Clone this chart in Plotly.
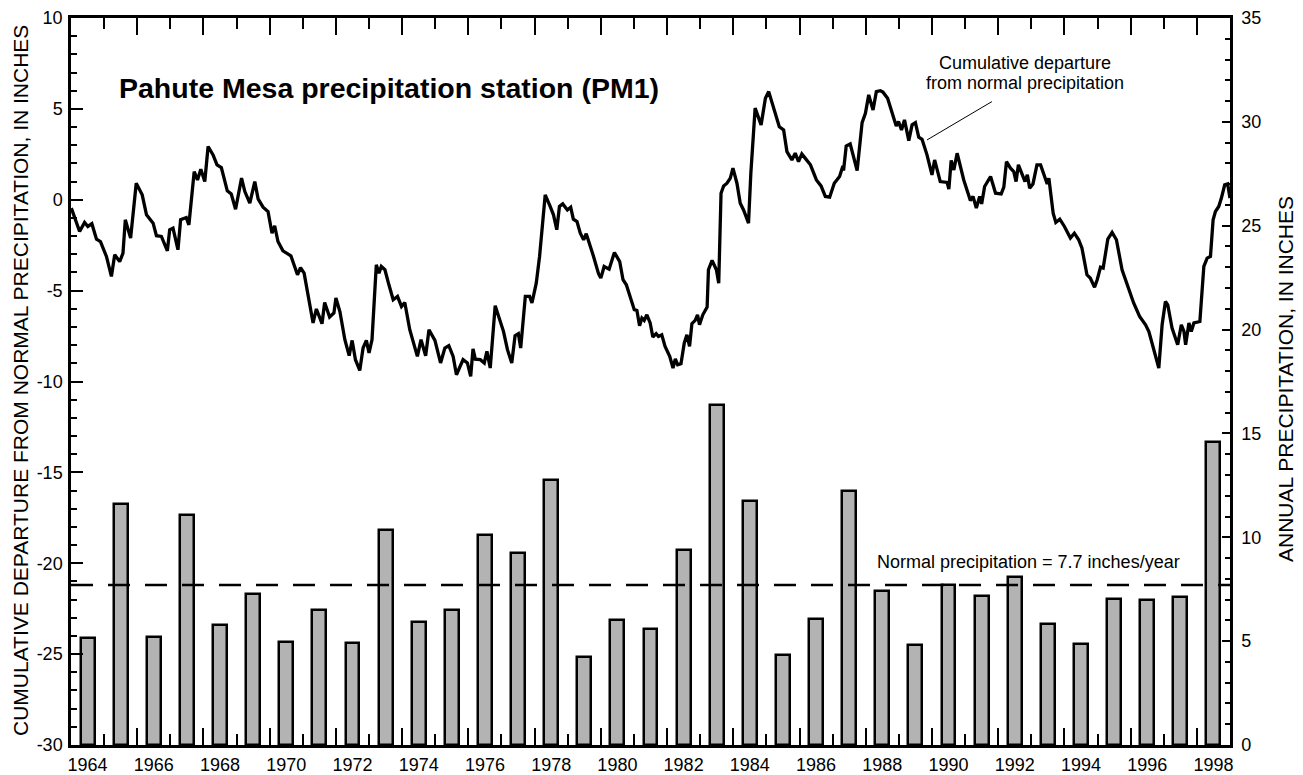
import plotly.graph_objects as go

# ---------------- data ----------------
years = list(range(1964, 1999))
annual_precip = [5.16, 11.58, 5.21, 11.06, 5.77, 7.26, 4.95, 6.49, 4.90, 10.34,
                 5.91, 6.49, 10.10, 9.23, 12.78, 4.23, 6.01, 5.58, 9.38, 16.39,
                 11.74, 4.32, 6.06, 12.22, 7.42, 4.81, 7.70, 7.17, 8.11, 5.82,
                 4.85, 7.04, 6.99, 7.12, 14.58]
normal_precip = 7.7

cum_time = [1964.01, 1964.16, 1964.26, 1964.41, 1964.51, 1964.63, 1964.77, 1964.89,
            1965.07, 1965.22, 1965.32, 1965.47, 1965.57, 1965.64, 1965.80, 1965.97,
            1966.15, 1966.28, 1966.48, 1966.58, 1966.73, 1966.91, 1966.98, 1967.08,
            1967.23, 1967.31, 1967.48, 1967.56, 1967.72, 1967.82, 1967.92, 1968.04,
            1968.14, 1968.29, 1968.41, 1968.54, 1968.72, 1968.84, 1968.97, 1969.15,
            1969.25, 1969.40, 1969.55, 1969.65, 1969.80, 1969.95, 1970.07, 1970.15,
            1970.25, 1970.40, 1970.64, 1970.84, 1970.93, 1971.04, 1971.31, 1971.41,
            1971.58, 1971.66, 1971.81, 1971.94, 1972.00, 1972.12, 1972.27, 1972.40,
            1972.49, 1972.59, 1972.72, 1972.82, 1972.92, 1973.00, 1973.09, 1973.22,
            1973.30, 1973.37, 1973.48, 1973.60, 1973.73, 1973.86, 1973.98, 1974.08,
            1974.23, 1974.46, 1974.57, 1974.71, 1974.81, 1974.99, 1975.16, 1975.29,
            1975.41, 1975.54, 1975.64, 1975.84, 1975.97, 1976.07, 1976.14, 1976.21,
            1976.36, 1976.48, 1976.56, 1976.66, 1976.81, 1977.06, 1977.18, 1977.31,
            1977.41, 1977.51, 1977.58, 1977.72, 1977.85, 1977.92, 1978.05, 1978.15,
            1978.32, 1978.47, 1978.57, 1978.67, 1978.75, 1978.85, 1978.99, 1979.09,
            1979.17, 1979.28, 1979.38, 1979.48, 1979.56, 1979.78, 1979.93, 1980.00,
            1980.10, 1980.25, 1980.41, 1980.57, 1980.67, 1980.77, 1980.89, 1981.01,
            1981.09, 1981.17, 1981.24, 1981.31, 1981.39, 1981.49, 1981.57, 1981.67,
            1981.74, 1981.84, 1981.94, 1982.08, 1982.18, 1982.25, 1982.32, 1982.42,
            1982.52, 1982.60, 1982.68, 1982.75, 1982.85, 1982.92, 1982.98, 1983.08,
            1983.21, 1983.25, 1983.36, 1983.49, 1983.56, 1983.63, 1983.71, 1983.81,
            1983.91, 1983.99, 1984.11, 1984.21, 1984.31, 1984.46, 1984.53, 1984.66,
            1984.84, 1984.97, 1985.07, 1985.22, 1985.39, 1985.52, 1985.62, 1985.77,
            1985.87, 1985.97, 1986.07, 1986.17, 1986.33, 1986.51, 1986.65, 1986.78,
            1986.91, 1987.05, 1987.21, 1987.31, 1987.33, 1987.41, 1987.53, 1987.74,
            1987.89, 1987.99, 1988.09, 1988.22, 1988.32, 1988.44, 1988.52, 1988.66,
            1988.79, 1988.92, 1988.99, 1989.08, 1989.17, 1989.30, 1989.40, 1989.50,
            1989.60, 1989.70, 1989.85, 1990.00, 1990.08, 1990.25, 1990.46, 1990.51,
            1990.58, 1990.66, 1990.76, 1990.96, 1991.16, 1991.24, 1991.34, 1991.44,
            1991.50, 1991.59, 1991.77, 1991.92, 1992.09, 1992.17, 1992.25, 1992.37,
            1992.47, 1992.54, 1992.61, 1992.73, 1992.81, 1992.88, 1992.95, 1993.05,
            1993.17, 1993.28, 1993.40, 1993.48, 1993.53, 1993.66, 1993.74, 1993.86,
            1994.00, 1994.18, 1994.30, 1994.43, 1994.53, 1994.68, 1994.78, 1994.91,
            1994.99, 1995.09, 1995.17, 1995.31, 1995.44, 1995.57, 1995.74, 1995.89,
            1996.09, 1996.27, 1996.45, 1996.55, 1996.70, 1996.85, 1996.95, 1997.05,
            1997.12, 1997.25, 1997.42, 1997.53, 1997.61, 1997.66, 1997.76, 1997.83,
            1997.91, 1998.09, 1998.21, 1998.31, 1998.41, 1998.49, 1998.56, 1998.66,
            1998.74, 1998.84, 1998.93, 1999.00]
cum_departure = [-0.46, -1.29, -1.75, -1.25, -1.47, -1.32, -2.17, -2.30,
                 -3.12, -4.22, -3.03, -3.40, -2.94, -1.10, -2.11, 0.91,
                 0.27, -0.83, -1.29, -1.98, -2.02, -2.81, -1.65, -1.56,
                 -2.75, -1.10, -0.98, -1.38, 1.55, 1.09, 1.68, 1.00,
                 2.93, 2.47, 1.92, 1.77, 0.49, 0.32, -0.52, 1.19,
                 0.45, -0.19, 1.00, 0.05, -0.41, -0.65, -1.84, -1.43,
                 -2.30, -2.81, -3.08, -4.13, -3.73, -4.04, -6.78, -6.01,
                 -6.82, -5.65, -6.45, -6.23, -5.41, -6.15, -7.70, -8.58,
                 -7.74, -8.80, -9.39, -8.16, -7.74, -8.43, -7.70, -3.58,
                 -4.04, -3.67, -3.85, -4.68, -5.50, -5.32, -5.87, -5.65,
                 -7.15, -8.62, -7.70, -8.58, -7.15, -7.74, -8.98, -8.16,
                 -8.03, -8.62, -9.63, -8.80, -8.98, -9.72, -8.20, -8.77,
                 -8.80, -8.98, -8.34, -9.26, -5.83, -7.24, -8.25, -8.98,
                 -7.48, -7.37, -8.16, -5.32, -5.32, -5.68, -4.59, -3.12,
                 0.27, -0.37, -0.83, -1.65, -0.37, -0.23, -0.56, -0.41,
                 -1.07, -1.20, -1.84, -2.20, -1.87, -3.12, -4.07, -4.31,
                 -3.67, -3.82, -2.90, -3.40, -4.40, -4.68, -5.32, -6.05,
                 -6.09, -6.93, -6.51, -6.64, -6.33, -6.78, -7.55, -7.37,
                 -7.52, -7.43, -8.07, -8.62, -9.26, -8.76, -9.08, -9.02,
                 -7.88, -7.43, -8.07, -6.82, -6.64, -6.33, -6.88, -6.33,
                 -5.90, -3.85, -3.34, -3.85, -4.59, 0.36, 0.76, 0.91,
                 1.19, 1.74, 0.91, -0.19, -0.56, -1.29, 1.46, 5.04,
                 4.12, 5.59, 5.95, 5.04, 4.02, 3.84, 2.65, 2.19,
                 2.56, 2.10, 2.52, 2.29, 1.92, 1.09, 0.76, 0.18,
                 0.14, 0.91, 1.28, 1.86, 1.61, 2.96, 3.07, 1.61,
                 4.24, 4.76, 5.77, 4.94, 5.95, 6.00, 5.92, 5.59,
                 4.76, 4.06, 4.30, 3.84, 4.39, 3.25, 4.12, 4.24,
                 3.44, 3.33, 2.47, 1.37, 2.19, 1.00, 0.95, 0.58,
                 2.16, 1.64, 2.56, 1.09, -0.04, 0.18, -0.46, 0.18,
                 -0.23, 0.73, 1.28, 0.36, 0.32, 0.69, 2.10, 1.74,
                 1.55, 1.00, 1.92, 1.37, 1.00, 1.37, 0.64, 0.87,
                 1.92, 1.92, 1.28, 0.87, 1.19, -0.74, -1.25, -1.07,
                 -1.47, -2.11, -1.84, -2.20, -2.66, -4.13, -4.31, -4.81,
                 -4.40, -3.71, -3.76, -2.17, -1.80, -2.20, -3.85, -4.68,
                 -5.68, -6.42, -6.88, -7.25, -8.34, -9.26, -6.88, -5.60,
                 -5.78, -7.06, -7.98, -6.88, -7.25, -7.98, -6.78, -7.25,
                 -6.78, -6.70, -3.67, -3.21, -3.12, -1.10, -0.65, -0.37,
                 0.09, 0.82, 0.87, 0.09]

label_years = list(range(1964, 1999, 2))
left_ticks = list(range(-30, 11, 5))
right_ticks = list(range(0, 36, 5))

FONT = "Liberation Sans, Arial, Helvetica, sans-serif"

fig = go.Figure()

fig.add_trace(go.Bar(
    x=[y + 0.5 for y in years], y=annual_precip, width=0.42,
    marker=dict(color="#b3b3b3", line=dict(color="black", width=2.5)),
    xaxis="x", yaxis="y2", showlegend=False, hoverinfo="skip"))

fig.add_trace(go.Scatter(
    x=cum_time, y=cum_departure, mode="lines",
    line=dict(color="black", width=3.3),
    xaxis="x", yaxis="y", showlegend=False))

# invisible trace to activate label axis
fig.add_trace(go.Scatter(x=[1964], y=[0], mode="markers", marker=dict(opacity=0),
                         xaxis="x3", yaxis="y", showlegend=False, hoverinfo="skip"))

fig.update_layout(
    width=1303, height=775,
    margin=dict(l=71, r=73, t=18, b=30),
    plot_bgcolor="white", paper_bgcolor="white",
    font=dict(family=FONT, size=18, color="black"),
    bargap=0,
    xaxis=dict(range=[1964, 1999], tickmode="array",
               tickvals=list(range(1966, 1999, 2)),
               ticks="inside", ticklen=17, tickwidth=2, tickcolor="black",
               showticklabels=False, showline=True, linewidth=2.5, linecolor="black",
               mirror="ticks", showgrid=False, zeroline=False, automargin=False,
               minor=dict(tickvals=list(range(1965, 1999, 2)), ticks="inside",
                          ticklen=11, tickwidth=2, tickcolor="black", showgrid=False)),
    xaxis3=dict(range=[1964, 1999], overlaying="x", anchor="y", side="bottom",
                tickmode="array", tickvals=[y + 0.5 for y in label_years],
                ticktext=[str(y) for y in label_years], ticks="",
                showline=False, showgrid=False, zeroline=False, automargin=False,
                tickfont=dict(size=18), ticklabelstandoff=7),
    yaxis=dict(range=[-30, 10], tickmode="array", tickvals=left_ticks,
               ticktext=[str(v) for v in left_ticks],
               ticks="inside", ticklen=12, tickwidth=2, tickcolor="black",
               showline=True, linewidth=2.5, linecolor="black", automargin=False,
               showgrid=False, zeroline=False, tickfont=dict(size=18),
               ticklabelstandoff=2,
               minor=dict(dtick=1, ticks="inside", ticklen=6, tickwidth=2,
                          tickcolor="black", showgrid=False)),
    yaxis2=dict(range=[0, 35], overlaying="y", side="right", anchor="x",
                tickmode="array", tickvals=right_ticks,
                ticktext=[str(v) for v in right_ticks],
                ticks="inside", ticklen=8, tickwidth=2, tickcolor="black",
                showline=True, linewidth=2.5, linecolor="black", automargin=False,
                showgrid=False, zeroline=False, tickfont=dict(size=18),
                ticklabelstandoff=5,
                minor=dict(dtick=1, ticks="inside", ticklen=5, tickwidth=2,
                           tickcolor="black", showgrid=False)),
)

# normal precipitation dashed line
fig.add_shape(type="line", xref="paper", x0=0, x1=1, yref="y2",
              y0=normal_precip, y1=normal_precip,
              line=dict(color="black", width=2.5, dash="22px,15px"))

# pointer line for the cumulative-departure label
fig.add_shape(type="line", xref="x", yref="y", x0=1991.81, y0=5.40, x1=1989.85, y1=3.29,
              line=dict(color="black", width=1))

fig.add_annotation(xref="x", yref="y", x=1965.39, y=6.15, xanchor="left", yanchor="middle",
                   text="<b>Pahute Mesa precipitation station (PM1)</b>",
                   showarrow=False, font=dict(size=28.5, family=FONT))
fig.add_annotation(xref="x", yref="y", x=1992.82, y=7.53, xanchor="center", yanchor="middle",
                   text="Cumulative departure", showarrow=False, font=dict(size=18, family=FONT))
fig.add_annotation(xref="x", yref="y", x=1992.82, y=6.43, xanchor="center", yanchor="middle",
                   text="from normal precipitation", showarrow=False, font=dict(size=18, family=FONT))
fig.add_annotation(xref="x", yref="y2", x=1988.29, y=8.79, xanchor="left", yanchor="middle",
                   text="Normal precipitation = 7.7 inches/year", showarrow=False,
                   font=dict(size=18, family=FONT))

fig.add_annotation(xref="paper", yref="paper", x=(20 - 71) / 1159, y=(775 - 30 - 381) / 727,
                   xanchor="center", yanchor="middle", textangle=-90,
                   text="CUMULATIVE DEPARTURE FROM NORMAL PRECIPITATION, IN INCHES",
                   showarrow=False, font=dict(size=21, family=FONT))
fig.add_annotation(xref="paper", yref="paper", x=(1285 - 71) / 1159, y=(775 - 30 - 379) / 727,
                   xanchor="center", yanchor="middle", textangle=-90,
                   text="ANNUAL PRECIPITATION, IN INCHES",
                   showarrow=False, font=dict(size=21, family=FONT))

fig.write_html("out.html", config={"displayModeBar": False},
               post_script="document.body.style.margin='0';document.body.style.padding='0';")
